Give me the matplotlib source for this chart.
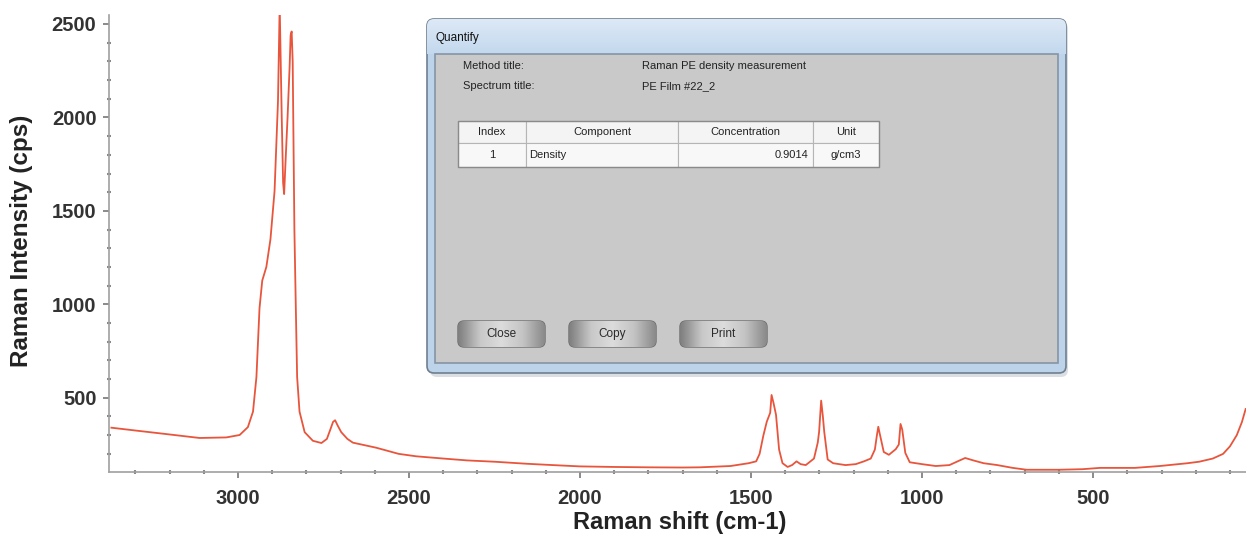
import numpy as np
import matplotlib
matplotlib.use('Agg')
import matplotlib.pyplot as plt
from matplotlib.patches import Rectangle, FancyBboxPatch
from matplotlib.ticker import MultipleLocator

# spectrum (cm-1, cps)
raman_shift = [3370, 3300, 3210, 3112, 3034, 2995, 2971, 2956, 2946, 2937, 2929, 2917,
               2905, 2893, 2883, 2878, 2872, 2868, 2865, 2860, 2855, 2849, 2846, 2843,
               2840, 2835, 2830, 2827, 2820, 2805, 2781, 2756, 2740, 2730, 2722, 2716,
               2708, 2698, 2680, 2664, 2596, 2530, 2479, 2400, 2330, 2250, 2155, 2080,
               2000, 1900, 1800, 1700, 1650, 1560, 1507, 1485, 1475, 1464, 1454, 1444,
               1440, 1434, 1427, 1418, 1408, 1393, 1380, 1367, 1355, 1340, 1316, 1305,
               1301, 1295, 1290, 1286, 1276, 1260, 1224, 1194, 1170, 1150, 1138, 1132,
               1128, 1124, 1112, 1097, 1077, 1068, 1063, 1058, 1049, 1036, 1000, 960,
               920, 890, 874, 850, 820, 780, 735, 694, 600, 531, 480, 378, 305, 224,
               190, 150, 120, 100, 80, 65, 54]
intensity = [340, 325, 306, 285, 288, 301, 343, 426, 611, 979, 1127, 1200,
             1348, 1606, 2085, 2600, 2000, 1650, 1590, 1800, 2000, 2270, 2440, 2460,
             2300, 1400, 900, 611, 426, 316, 270, 258, 280, 330, 371, 380,
             350, 316, 280, 260, 233, 200, 187, 175, 165, 158, 147, 140,
             133, 130, 128, 127, 128, 135, 150, 160, 200, 298, 372, 420,
             515, 470, 409, 223, 150, 130, 140, 160, 145, 140, 175, 260,
             318, 485, 400, 318, 170, 150, 140, 145, 160, 175, 223, 300,
             345, 310, 210, 195, 225, 250, 360, 330, 205, 155, 145, 135,
             140, 165, 178, 165, 150, 140, 125, 115, 115, 118, 125, 125, 135, 150,
             158, 175, 200, 240, 300, 370, 440]

x_ticks = [3000, 2500, 2000, 1500, 1000, 500]
y_ticks = [500, 1000, 1500, 2000, 2500]

# dialog contents
dialog_title = 'Quantify'
info_labels = ['Method title:', 'Spectrum title:']
info_values = ['Raman PE density measurement', 'PE Film #22_2']
table_header = ['Index', 'Component', 'Concentration', 'Unit']
table_row = ['1', 'Density', '0.9014', 'g/cm3']
buttons = ['Close', 'Copy', 'Print']

plt.rcParams['font.family'] = ['Liberation Sans', 'DejaVu Sans']

fig = plt.figure(figsize=(12.46, 5.40), dpi=100)
ax = fig.add_axes([109 / 1246, 1 - 472 / 540, 1 - 109 / 1246, (472 - 15) / 540])

ax.plot(raman_shift, intensity, color='#e8553c', lw=1.3, solid_joinstyle='round')
ax.set_xlim(3377, 53)
ax.set_ylim(103, 2548)

for s in ['top', 'right']:
    ax.spines[s].set_visible(False)
for s in ['left', 'bottom']:
    ax.spines[s].set_color('#a0a0a0')
    ax.spines[s].set_linewidth(1.2)

ax.set_xticks(x_ticks)
ax.set_yticks(y_ticks)
ax.xaxis.set_minor_locator(MultipleLocator(100))
ax.yaxis.set_minor_locator(MultipleLocator(100))
ax.tick_params(which='major', direction='out', length=4, width=1.2, color='#777',
               labelsize=14.5, labelcolor='#333')
ax.tick_params(which='minor', direction='inout', length=3, width=1.5, color='#888')
ax.tick_params(axis='x', which='major', pad=8)
ax.tick_params(axis='y', which='major', pad=5)
for lab in ax.get_xticklabels() + ax.get_yticklabels():
    lab.set_fontweight('bold')

# axis titles placed in figure coordinates
fig.text(680 / 1246, 1 - 523 / 540, 'Raman shift (cm-1)', fontsize=17, fontweight='bold',
         color='#222', ha='center', va='center')
fig.text(22 / 1246, 1 - 241 / 540, 'Raman Intensity (cps)', fontsize=17.5, fontweight='bold',
         color='#222', ha='center', va='center', rotation=90)

# overlay in pixel coordinates for the dialog window
ov = fig.add_axes([0, 0, 1, 1])
ov.set_xlim(0, 1246)
ov.set_ylim(540, 0)
ov.axis('off')
ov.patch.set_alpha(0)

# shadow + frame
ov.add_patch(FancyBboxPatch((430, 22), 638, 355, boxstyle='round,pad=0,rounding_size=7',
                            facecolor='#9aa6b2', edgecolor='none', alpha=0.35))
frame = FancyBboxPatch((427, 19), 639, 354, boxstyle='round,pad=0,rounding_size=7',
                       facecolor='#bcd3ea', edgecolor='#6f7f90', lw=1.2)
ov.add_patch(frame)
grad = np.linspace(0, 1, 60).reshape(-1, 1)
im = ov.imshow(grad, cmap=matplotlib.colors.LinearSegmentedColormap.from_list(
    'tb', ['#dde9f6', '#c3d8ee']), extent=(427, 1066, 54, 19), aspect='auto', zorder=2)
im.set_clip_path(frame)
ov.text(436, 38, dialog_title, fontsize=8.5, color='#111', va='center', zorder=3)

# inner panel
ov.add_patch(Rectangle((435, 54), 623, 309, facecolor='#c9c9c9', edgecolor='#8495a6',
                       lw=1.2, zorder=3))

for i, (lab, val) in enumerate(zip(info_labels, info_values)):
    yy = 66 + 20 * i
    ov.text(463, yy, lab, fontsize=8, color='#222', va='center', zorder=4)
    ov.text(642, yy, val, fontsize=8, color='#222', va='center', zorder=4)

# table
col_edges = [458, 526, 678, 813, 879]
row_edges = [121, 143, 167]
for r in range(2):
    for c in range(4):
        ov.add_patch(Rectangle((col_edges[c], row_edges[r]), col_edges[c + 1] - col_edges[c],
                               row_edges[r + 1] - row_edges[r],
                               facecolor='#f4f4f4' if r == 0 else '#f8f8f8',
                               edgecolor='#b5b5b5', lw=0.8, zorder=4))
ov.add_patch(Rectangle((458, 121), 421, 46, facecolor='none', edgecolor='#8a8a8a', lw=1, zorder=5))
for c, h in enumerate(table_header):
    ov.text((col_edges[c] + col_edges[c + 1]) / 2, 132, h, fontsize=8, color='#222',
            ha='center', va='center', zorder=6)
ov.text((col_edges[0] + col_edges[1]) / 2, 155, table_row[0], fontsize=8, color='#222',
        ha='center', va='center', zorder=6)
ov.text(529, 155, table_row[1], fontsize=8, color='#222', va='center', zorder=6)
ov.text(808, 155, table_row[2], fontsize=8, color='#222', ha='right', va='center', zorder=6)
ov.text((col_edges[3] + col_edges[4]) / 2, 155, table_row[3], fontsize=8, color='#222',
        ha='center', va='center', zorder=6)

# buttons
bcmap = matplotlib.colors.LinearSegmentedColormap.from_list(
    'btn', ['#7f7f7f', '#c8c8c8', '#dcdcdc', '#c4c4c4', '#8a8a8a'])
bgrad = np.linspace(0, 1, 80).reshape(1, -1)
for i, b in enumerate(buttons):
    x0 = 458 + 111 * i
    bp = FancyBboxPatch((x0, 321), 87, 26, boxstyle='round,pad=0,rounding_size=6',
                        facecolor='#b4b4b4', edgecolor='#6e6e6e', lw=1, zorder=5)
    ov.add_patch(bp)
    bim = ov.imshow(bgrad, cmap=bcmap, extent=(x0, x0 + 87, 347, 321), aspect='auto', zorder=5)
    bim.set_clip_path(bp)
    ov.text(x0 + 43.5, 334, b, fontsize=8.5, color='#2a2a2a', ha='center', va='center', zorder=7)

ov.set_xlim(0, 1246)
ov.set_ylim(540, 0)

fig.savefig('out.png', dpi=100)
